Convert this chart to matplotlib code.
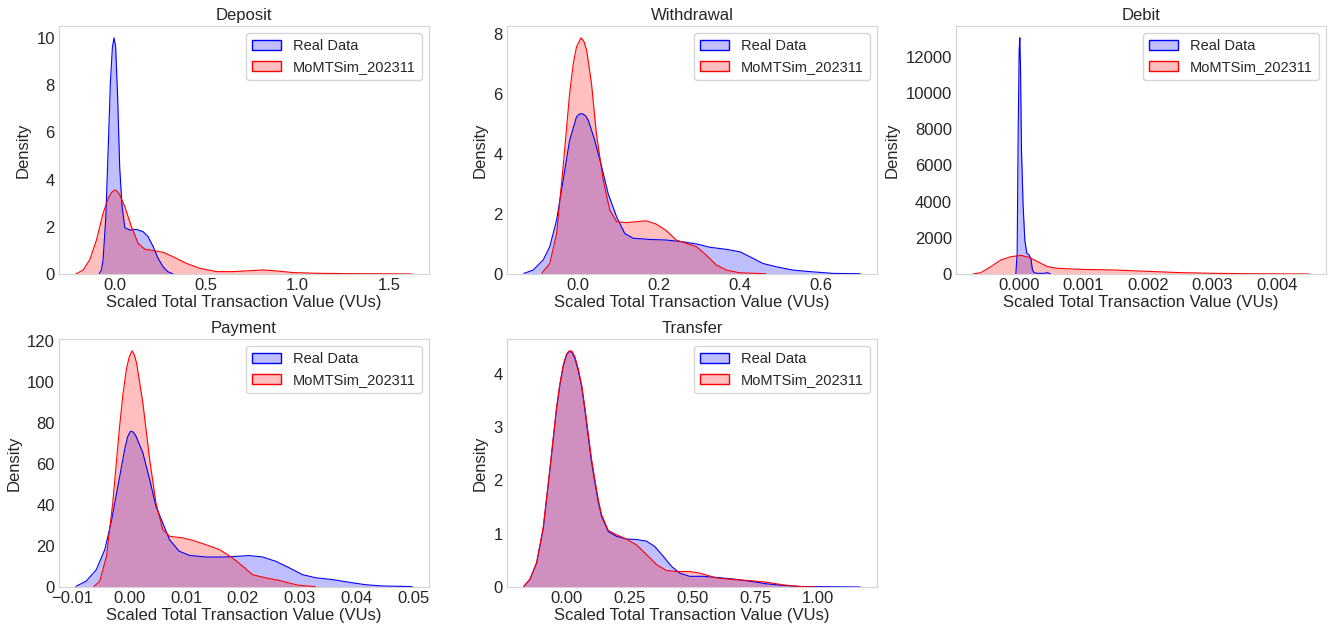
import matplotlib
matplotlib.use("Agg")
import seaborn as sns
from matplotlib import pyplot as plt
from matplotlib.patches import Patch

sns.set_style("whitegrid")
plt.rcParams["font.family"] = ["Liberation Sans", "DejaVu Sans"]

titles = ["Deposit", "Withdrawal", "Debit", "Payment", "Transfer"]
labels = ["Real Data", "MoMTSim_202311"]

# density curves (x, density)
deposit_real_x = [-0.086, -0.073, -0.064, -0.049, -0.036, -0.024, -0.013, -0.004, 0.005, 0.016,
                  0.027, 0.040, 0.055, 0.082, 0.118, 0.155, 0.182, 0.21, 0.237, 0.264, 0.29, 0.319]
deposit_real_y = [0, 0.17, 0.6, 2.4, 5.3, 8.1, 9.6, 10.0, 9.6, 7.4,
                  4.5, 2.85, 1.96, 1.86, 1.89, 1.79, 1.58, 1.16, 0.66, 0.31, 0.1, 0]
deposit_sim_x = [-0.213, -0.173, -0.137, -0.10, -0.064, -0.036, -0.018, 0.0, 0.014, 0.027, 0.055,
                 0.091, 0.128, 0.164, 0.21, 0.264, 0.319, 0.392, 0.465, 0.556, 0.647, 0.738,
                 0.811, 0.884, 0.975, 1.10, 1.285, 1.467, 1.626]
deposit_sim_y = [0, 0.17, 0.6, 1.44, 2.57, 3.2, 3.45, 3.56, 3.5, 3.35, 2.85,
                 2.0, 1.3, 1.05, 0.99, 0.92, 0.73, 0.45, 0.24, 0.1, 0.1, 0.14,
                 0.17, 0.13, 0.06, 0.03, 0.015, 0.01, 0]

withdrawal_real_x = [-0.134, -0.111, -0.086, -0.07, -0.053, -0.037, -0.021, -0.004, 0.003, 0.010,
                     0.018, 0.025, 0.041, 0.058, 0.074, 0.095, 0.115, 0.136, 0.177, 0.218, 0.259,
                     0.292, 0.325, 0.366, 0.399, 0.423, 0.456, 0.489, 0.53, 0.571, 0.629, 0.696]
withdrawal_real_y = [0.02, 0.13, 0.47, 0.91, 1.8, 3.12, 4.45, 5.23, 5.32, 5.34,
                     5.27, 5.12, 4.45, 3.57, 2.68, 1.9, 1.35, 1.19, 1.15, 1.13, 1.07,
                     1.0, 0.89, 0.82, 0.74, 0.58, 0.35, 0.24, 0.13, 0.08, 0.02, 0.01]
withdrawal_sim_x = [-0.09, -0.07, -0.053, -0.037, -0.021, -0.012, -0.004, 0.007, 0.014, 0.021,
                    0.033, 0.045, 0.062, 0.078, 0.095, 0.119, 0.144, 0.168, 0.193, 0.218, 0.242,
                    0.267, 0.292, 0.316, 0.341, 0.366, 0.399, 0.463]
withdrawal_sim_y = [0.02, 0.35, 1.35, 3.57, 6.0, 7.0, 7.56, 7.86, 7.75, 7.45,
                    6.34, 4.68, 3.12, 2.13, 1.74, 1.71, 1.74, 1.77, 1.66, 1.44, 1.13,
                    1.02, 0.91, 0.63, 0.3, 0.13, 0.04, 0.01]

debit_real_x = [-0.0000517, -0.000031, -0.0000155, 0.0, 0.0000103, 0.0000207, 0.0000362, 0.0000621,
                0.000088, 0.000119, 0.000155, 0.000181, 0.000207, 0.000233, 0.000285, 0.000388,
                0.00044, 0.00049]
debit_real_y = [0, 1140, 7765, 12365, 13046, 11445, 6845, 3717,
                1877, 1141, 1049, 865, 221, 74, 37, 37,
                74, 0]
debit_sim_x = [-0.000719, -0.000595, -0.00044, -0.000285, -0.000129, 0.0000259, 0.000155, 0.000285,
               0.00044, 0.000595, 0.000957, 0.00147, 0.00199, 0.00251, 0.00303, 0.00354, 0.0045]
debit_sim_y = [0, 74, 405, 773, 957, 1030, 920, 681,
               405, 313, 258, 221, 147, 74, 37, 18, 0]

payment_real_x = [-0.0094, -0.0076, -0.0058, -0.0043, -0.0032, -0.002, -0.0008, -0.0003, 0.0002,
                  0.0007, 0.0012, 0.0024, 0.0036, 0.0047, 0.0059, 0.0071, 0.0088, 0.0106, 0.0135,
                  0.0165, 0.0182, 0.0211, 0.0235, 0.0258, 0.0282, 0.0305, 0.0328, 0.0358, 0.0387,
                  0.0416, 0.0446, 0.0498]
payment_real_y = [0.3, 2.8, 8.4, 18.2, 31.2, 49, 67, 73, 75.8,
                  75.5, 73.4, 65.3, 52.3, 39.3, 31.2, 23, 17.4, 15.4, 14.6,
                  14.6, 14.8, 15.3, 14.6, 12.5, 9.3, 6.0, 4.5, 3.6, 2.3,
                  1.1, 0.5, 0.2]
payment_sim_x = [-0.0062, -0.0052, -0.004, -0.0029, -0.0017, -0.0011, -0.0005, 0.0, 0.0005,
                 0.0009, 0.0013, 0.0024, 0.0036, 0.0047, 0.0059, 0.0071, 0.0094, 0.0112, 0.0135,
                 0.0159, 0.0182, 0.02, 0.0217, 0.0241, 0.0264, 0.0282, 0.0299, 0.0328]
payment_sim_y = [0.3, 2.8, 15, 41, 78, 94, 106, 112, 115,
                 113, 109, 89.6, 62, 41, 28, 24.7, 23.9, 22.7, 20.6,
                 18.2, 14.1, 10.1, 6.0, 4.4, 3.2, 1.9, 0.8, 0.2]

transfer_real_x = [-0.17, -0.146, -0.119, -0.093, -0.066, -0.04, -0.026, -0.013, 0.0, 0.011,
                   0.022, 0.033, 0.046, 0.06, 0.073, 0.086, 0.099, 0.113, 0.126, 0.139, 0.166,
                   0.199, 0.238, 0.278, 0.318, 0.351, 0.384, 0.417, 0.45, 0.49, 0.543, 0.596,
                   0.662, 0.728, 0.795, 0.861, 0.927, 1.168]
transfer_real_y = [0.01, 0.14, 0.45, 1.08, 2.2, 3.33, 3.8, 4.14, 4.35, 4.42,
                   4.4, 4.29, 4.07, 3.76, 3.32, 2.83, 2.36, 1.95, 1.6, 1.33, 1.04,
                   0.95, 0.9, 0.89, 0.86, 0.76, 0.58, 0.39, 0.26, 0.2, 0.2, 0.18,
                   0.15, 0.11, 0.06, 0.03, 0.01, 0]
transfer_sim_x = [-0.17, -0.146, -0.119, -0.093, -0.066, -0.04, -0.026, -0.013, 0.0, 0.011,
                  0.022, 0.033, 0.046, 0.06, 0.073, 0.086, 0.099, 0.113, 0.126, 0.139, 0.166,
                  0.199, 0.238, 0.278, 0.318, 0.358, 0.397, 0.437, 0.49, 0.53, 0.596, 0.662,
                  0.728, 0.795, 0.861, 0.927, 0.993]
transfer_sim_y = [0.01, 0.14, 0.46, 1.11, 2.23, 3.36, 3.83, 4.17, 4.37, 4.43,
                  4.42, 4.32, 4.1, 3.79, 3.36, 2.88, 2.41, 2.0, 1.64, 1.36, 1.06,
                  0.98, 0.9, 0.79, 0.61, 0.42, 0.31, 0.29, 0.29, 0.26, 0.17, 0.14,
                  0.12, 0.09, 0.04, 0.01, 0]

curves = [
    (deposit_real_x, deposit_real_y, deposit_sim_x, deposit_sim_y),
    (withdrawal_real_x, withdrawal_real_y, withdrawal_sim_x, withdrawal_sim_y),
    (debit_real_x, debit_real_y, debit_sim_x, debit_sim_y),
    (payment_real_x, payment_real_y, payment_sim_x, payment_sim_y),
    (transfer_real_x, transfer_real_y, transfer_sim_x, transfer_sim_y),
]

# axes boxes in pixels (left, top) on a 1330x627 canvas, each 370x248
W, H = 1330, 627
boxes = [(59, 26), (507, 26), (956, 26), (59, 339), (507, 339)]

fig = plt.figure(figsize=(13.3, 6.27), dpi=100)
for (rx, ry, sx, sy), title, (left, top) in zip(curves, titles, boxes):
    ax = fig.add_axes([left / W, 1 - (top + 248) / H, 370 / W, 248 / H])
    for x, y, color in [(rx, ry, "blue"), (sx, sy, "red")]:
        ax.fill_between(x, y, color=color, alpha=0.25, linewidth=0)
        ax.plot(x, y, color=color, linewidth=0.8, solid_joinstyle="round")
    ax.set_ylim(bottom=0)
    ax.grid(False)
    for spine in ax.spines.values():
        spine.set_color("#d5d5d5")
    ax.set_title(title, fontsize=12, pad=4)
    ax.set_xlabel("Scaled Total Transaction Value (VUs)", fontsize=12, labelpad=1)
    ax.set_ylabel("Density", fontsize=12)
    ax.tick_params(labelsize=12, length=0, pad=3)
    handles = [Patch(facecolor=(0, 0, 1, 0.25), edgecolor="blue"),
               Patch(facecolor=(1, 0, 0, 0.25), edgecolor="red")]
    ax.legend(handles, labels, loc="upper right", fontsize=10.5)

fig.savefig("out.png", dpi=100)
